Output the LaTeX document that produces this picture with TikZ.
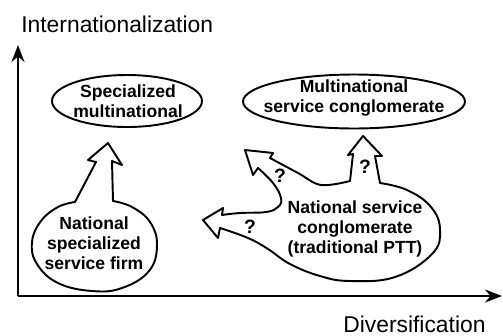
\documentclass[tikz,border=0pt]{standalone}
\usepackage{fontspec}
\setmainfont{Liberation Sans}
\usetikzlibrary{arrows.meta,shapes.geometric}

\tikzset{
  axislabel/.style={font=\fontsize{13}{15}\selectfont, inner sep=0pt},
  boxtext/.style={font=\bfseries\fontsize{10}{11.4}\selectfont, align=center, inner sep=0pt},
  oval/.style={ellipse, draw, line width=1.1pt, inner sep=0pt},
  blob/.style={line width=1.1pt, line join=round},
  qmark/.style={font=\bfseries\fontsize{11}{11}\selectfont, inner sep=0pt},
  axis/.style={line width=1.1pt, -{Stealth[length=0.34cm,width=0.26cm]}}
}

\begin{document}
\begin{tikzpicture}[x=0.02cm,y=-0.02cm]
    \useasboundingbox (0,0) rectangle (503,335);
    % Axes
    \coordinate (origin) at (18,296);
    \coordinate (ytop) at (18,45);
    \coordinate (xend) at (502,296);
    \draw[axis] (origin) -- (ytop);
    \draw[axis] (origin) -- (xend);
    \node[axislabel, anchor=base west] (ylab) at (21,32) {Internationalization};
    \node[axislabel, anchor=base west] (xlab) at (343,332) {Diversification};
    % Target positions
    \node[oval, minimum width=3cm, minimum height=1.04cm] (specmulti) at (127,101) {};
    \node[boxtext] (specmultitext) at (128,101) {Specialized\\multinational};
    \node[oval, minimum width=4.44cm, minimum height=1.08cm] (multiconglo) at (354,101.5) {};
    \node[boxtext] (multiconglotext) at (354,98) {Multinational\\service conglomerate};
    % National specialized firm with its arrow
    \draw[blob] (108,143) -- (122,165) -- (112,161) -- (113,201)
      -- plot[smooth, tension=0.7] coordinates {(113,201) (132,207) (150,222) (157,245) (149,271)
         (122,288) (92,291) (58,283) (37,264) (32,242) (41,221) (58,207) (75,202)}
      -- (96,162) -- (88,160) -- cycle;
    \node[boxtext] (natspec) at (94,243) {National\\specialized\\service firm};
    % National conglomerate with its three arrows
    \draw[blob] (363,136) -- (348,155) -- (353,154) -- (350,181)
      -- plot[smooth, tension=0.6] coordinates {(350,181) (321,185) (298,173) (270,158)}
      -- (273,153) -- (245,150) -- (253,175) -- (258,168)
      -- plot[smooth, tension=0.7] coordinates {(258,168) (273,183) (281,198) (278,207) (266,212) (240,213) (222,215)}
      -- (223,208) -- (203,220) -- (218,238) -- (220,228)
      -- plot[smooth, tension=0.7] coordinates {(220,228) (248,238) (268,249) (290,264) (320,276)
         (350,281) (395,277) (432,254) (440,230) (431,207) (407,190) (380,183)}
      -- (375,156) -- (382,156) -- cycle;
    \node[boxtext] (natconglo) at (355,229) {National service\\conglomerate\\(traditional PTT)};
    % Open questions
    \node[qmark] (q1) at (280,176) {?};
    \node[qmark] (q2) at (365,167) {?};
    \node[qmark] (q3) at (250,227) {?};
\end{tikzpicture}
\end{document}
